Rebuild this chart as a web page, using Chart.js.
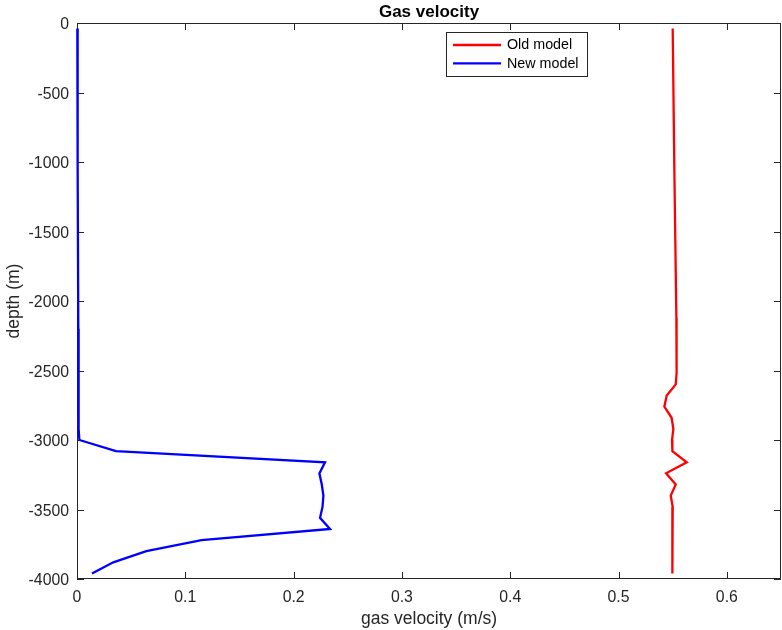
<!DOCTYPE html>
<html>
<head>
<meta charset="utf-8">
<script src="https://cdn.jsdelivr.net/npm/chart.js@4"></script>
<style>
  html, body { margin: 0; padding: 0; background: #fff; }
  #plot { display: block; }
</style>
</head>
<body>
<canvas id="plot" width="782" height="630"></canvas>
<script>
// depth profiles (m) and gas velocity (m/s)
const oldDepth = [-40, -1040, -2120, -2520, -2600, -2680, -2760, -2840, -2920, -3000, -3080, -3160, -3240, -3320, -3400, -3480, -3560, -3960];
const oldVel = [0.5500, 0.5515, 0.5534, 0.5536, 0.5528, 0.5445, 0.5423, 0.5490, 0.5506, 0.5494, 0.5497, 0.5630, 0.5439, 0.5528, 0.5482, 0.5500, 0.5497, 0.5497];

const newDepth = [-40, -1040, -2200, -2920, -3000, -3080, -3160, -3240, -3320, -3400, -3480, -3560, -3640, -3720, -3800, -3880, -3960];
const newVel = [0.0003, 0.0006, 0.0012, 0.0015, 0.0022, 0.036, 0.229, 0.2238, 0.226, 0.2275, 0.2267, 0.2244, 0.2336, 0.115, 0.064, 0.0335, 0.0138];

const xTicks = [0, 0.1, 0.2, 0.3, 0.4, 0.5, 0.6];
const yTicks = [0, -500, -1000, -1500, -2000, -2500, -3000, -3500, -4000];

const AXIS_COLOR = '#262626';
const FONT = '"Liberation Sans", Arial, Helvetica, sans-serif';

function toPoints(xs, ys) {
  return xs.map((v, i) => ({ x: v, y: ys[i] }));
}

// box around the axes with inward ticks on all four sides
const axesBox = {
  id: 'axesBox',
  beforeDatasetsDraw(chart) {
    const { ctx, chartArea: a, scales } = chart;
    const len = 7;
    ctx.save();
    ctx.strokeStyle = AXIS_COLOR;
    ctx.lineWidth = 1;
    ctx.beginPath();
    ctx.rect(a.left + 0.5, a.top + 0.5, a.right - a.left - 1, a.bottom - a.top - 1);
    scales.x.ticks.forEach(t => {
      const px = Math.round(scales.x.getPixelForValue(t.value)) + 0.5;
      ctx.moveTo(px, a.bottom); ctx.lineTo(px, a.bottom - len);
      ctx.moveTo(px, a.top); ctx.lineTo(px, a.top + len);
    });
    scales.y.ticks.forEach(t => {
      const py = Math.round(scales.y.getPixelForValue(t.value)) + 0.5;
      ctx.moveTo(a.left, py); ctx.lineTo(a.left + len, py);
      ctx.moveTo(a.right, py); ctx.lineTo(a.right - len, py);
    });
    ctx.stroke();
    ctx.restore();
  },
  afterDraw(chart) {
    const { ctx, chartArea: a } = chart;
    ctx.save();
    // title
    ctx.fillStyle = '#000';
    ctx.font = 'bold 17px ' + FONT;
    ctx.textAlign = 'center';
    ctx.textBaseline = 'alphabetic';
    ctx.fillText('Gas velocity', (a.left + a.right) / 2, 17);

    // legend box inside the axes
    const bx = a.left + 369, by = a.top + 9, bw = 141, bh = 44;
    ctx.fillStyle = '#fff';
    ctx.fillRect(bx, by, bw, bh);
    ctx.strokeStyle = AXIS_COLOR;
    ctx.lineWidth = 1;
    ctx.strokeRect(bx + 0.5, by + 0.5, bw, bh);
    ctx.font = '14.3px ' + FONT;
    ctx.textAlign = 'left';
    ctx.textBaseline = 'middle';
    chart.data.datasets.forEach((ds, i) => {
      const ry = by + 13 + i * 18.3;
      ctx.strokeStyle = ds.borderColor;
      ctx.lineWidth = 2.3;
      ctx.beginPath();
      ctx.moveTo(bx + 7, ry);
      ctx.lineTo(bx + 55, ry);
      ctx.stroke();
      ctx.fillStyle = '#000';
      ctx.fillText(ds.label, bx + 61, ry + 0.5);
    });
    ctx.restore();
  }
};

new Chart(document.getElementById('plot'), {
  type: 'scatter',
  data: {
    datasets: [
      {
        label: 'Old model',
        data: toPoints(oldVel, oldDepth),
        borderColor: '#ff0000',
        backgroundColor: '#ff0000',
        borderWidth: 2.3,
        showLine: true,
        pointRadius: 0,
        tension: 0,
        clip: false
      },
      {
        label: 'New model',
        data: toPoints(newVel, newDepth),
        borderColor: '#0000ff',
        backgroundColor: '#0000ff',
        borderWidth: 2.3,
        showLine: true,
        pointRadius: 0,
        tension: 0,
        clip: false
      }
    ]
  },
  options: {
    responsive: false,
    animation: false,
    devicePixelRatio: 1,
    layout: { padding: { top: 23, right: 1, left: 0, bottom: 0 } },
    plugins: {
      legend: { display: false },
      title: { display: false },
      tooltip: { enabled: false }
    },
    scales: {
      x: {
        type: 'linear',
        min: 0,
        max: 0.65,
        afterBuildTicks: s => { s.ticks = xTicks.map(v => ({ value: v })); },
        afterFit: s => { s.height = 51; },
        grid: { display: false, drawTicks: false },
        border: { display: false },
        ticks: {
          padding: 9,
          color: AXIS_COLOR,
          maxRotation: 0,
          font: { family: FONT, size: 15.8 },
          callback: v => String(v)
        },
        title: {
          display: true,
          text: 'gas velocity (m/s)',
          color: AXIS_COLOR,
          padding: { top: 0, bottom: 0 },
          font: { family: FONT, size: 17.5 }
        }
      },
      y: {
        type: 'linear',
        min: -4000,
        max: 0,
        afterBuildTicks: s => { s.ticks = yTicks.map(v => ({ value: v })); },
        afterFit: s => { s.width = 77; },
        grid: { display: false, drawTicks: false },
        border: { display: false },
        ticks: {
          padding: 8,
          labelOffset: 2,
          color: AXIS_COLOR,
          font: { family: FONT, size: 15.8 },
          callback: v => String(v)
        },
        title: {
          display: true,
          text: 'depth (m)',
          color: AXIS_COLOR,
          padding: { top: 4, bottom: 0 },
          font: { family: FONT, size: 17.5 }
        }
      }
    }
  },
  plugins: [axesBox]
});
</script>
</body>
</html>
